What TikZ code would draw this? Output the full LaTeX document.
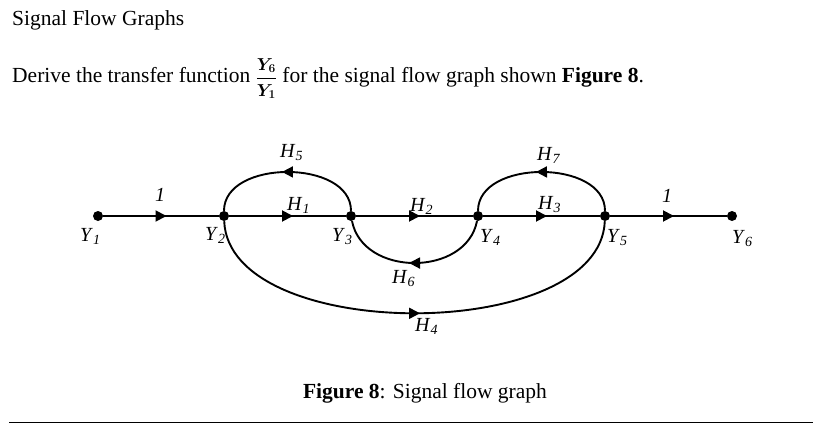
\documentclass[tikz,border=0pt]{standalone}
\usepackage{fontspec}
\setmainfont{Liberation Serif}
\usetikzlibrary{arrows.meta,decorations.markings}
\newcommand\sfglab[2]{\textit{#1}\textsubscript{\textit{#2}}}
\tikzset{
  sfgdot/.style={circle,fill=black,inner sep=0pt,minimum size=10pt},
  flow/.style={line width=1.9pt,postaction={decorate},
    decoration={markings,mark=at position #1 with {\arrow[xshift=5.5pt]{Triangle[length=11pt,width=11pt]}}}},
  flow/.default=0.5,
  lbl/.style={anchor=base west,inner sep=0pt,font=\fontsize{20}{24}\selectfont},
  txt/.style={anchor=base west,inner sep=0pt,font=\fontsize{21.5}{25}\selectfont},
}
\begin{document}
\begin{tikzpicture}[x=1pt,y=-1pt]
\useasboundingbox (0,0) rectangle (813,425);
% texts
\node[txt] (title) at (12,26) {Signal Flow Graphs};
\node[txt] (task) at (12,83) {Derive the transfer function {\fontsize{17}{17}\selectfont\boldmath$\displaystyle\frac{Y_6}{Y_1}$} for the signal flow graph shown \textbf{Figure 8}.};
\node[txt,anchor=base] (cap) at (425,398) {\textbf{Figure 8}: Signal flow graph};
\draw[line width=1.3pt] (9,422.5) -- (813,422.5);
% nodes
\node[sfgdot] (Y1) at (98,216) {};
\node[sfgdot] (Y2) at (224,216) {};
\node[sfgdot] (Y3) at (351,216) {};
\node[sfgdot] (Y4) at (478,216) {};
\node[sfgdot] (Y5) at (605,216) {};
\node[sfgdot] (Y6) at (732,216) {};
% branches
\draw[flow] (Y1) -- (Y2);
\draw[flow] (Y2) -- (Y3);
\draw[flow] (Y3) -- (Y4);
\draw[flow] (Y4) -- (Y5);
\draw[flow] (Y5) -- (Y6);
\draw[flow] (Y3) .. controls +(0,-57) and +(0,-57) .. (Y2);
\draw[flow] (Y5) .. controls +(0,-57) and +(0,-57) .. (Y4);
\draw[flow] (Y4) .. controls +(-12,61) and +(12,61) .. (Y3);
\draw[flow] (Y2) .. controls +(5,128) and +(-5,128) .. (Y5);
% labels
\node[lbl] (l12) at (155,201) {\textit{1}};
\node[lbl] (l56) at (662,202) {\textit{1}};
\node[lbl] (lH1) at (287,210) {\sfglab{H}{1}};
\node[lbl] (lH2) at (410,211) {\sfglab{H}{2}};
\node[lbl] (lH3) at (538,209) {\sfglab{H}{3}};
\node[lbl] (lH5) at (280,157) {\sfglab{H}{5}};
\node[lbl] (lH7) at (537,160) {\sfglab{H}{7}};
\node[lbl] (lH6) at (392,283) {\sfglab{H}{6}};
\node[lbl] (lH4) at (415,331) {\sfglab{H}{4}};
\node[lbl] (lY1) at (80,241) {\sfglab{Y}{1}};
\node[lbl] (lY2) at (205,240) {\sfglab{Y}{2}};
\node[lbl] (lY3) at (332,241) {\sfglab{Y}{3}};
\node[lbl] (lY4) at (480,242) {\sfglab{Y}{4}};
\node[lbl] (lY5) at (607,242) {\sfglab{Y}{5}};
\node[lbl] (lY6) at (732,243) {\sfglab{Y}{6}};
\end{tikzpicture}
\end{document}
